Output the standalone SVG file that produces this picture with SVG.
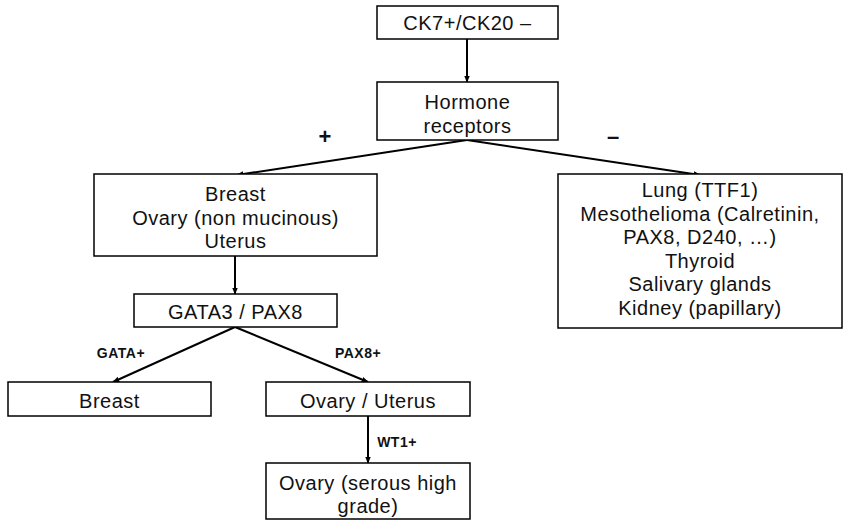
<svg xmlns="http://www.w3.org/2000/svg" width="850" height="529" viewBox="0 0 850 529">
<defs>
<marker id="ah" viewBox="0 0 10 10" refX="9" refY="5" markerWidth="7" markerHeight="7" orient="auto" markerUnits="userSpaceOnUse"><path d="M0,1 L10,5 L0,9 z" fill="#000"/></marker>
<style>
.box{fill:#fff;stroke:#000;stroke-width:1.5}
.t{font-family:"Liberation Sans",Arial,sans-serif;font-size:20px;letter-spacing:0.5px;fill:#111;text-anchor:middle}
.lb{font-family:"Liberation Sans",Arial,sans-serif;font-size:14px;letter-spacing:0.5px;font-weight:bold;fill:#111;text-anchor:middle}
.sg{font-family:"Liberation Sans",Arial,sans-serif;font-size:22px;font-weight:bold;fill:#111;text-anchor:middle}
.c{stroke:#000;stroke-width:2;fill:none;marker-end:url(#ah)}
</style>
</defs>
<rect width="850" height="529" fill="#fff"/>
<g id="connectors">
<line class="c" x1="467" y1="39" x2="467" y2="82"/>
<line class="c" x1="467" y1="140" x2="237" y2="175"/>
<line class="c" x1="467" y1="140" x2="700" y2="175"/>
<line class="c" x1="235" y1="256" x2="235" y2="294"/>
<line class="c" x1="235" y1="327" x2="113" y2="382"/>
<line class="c" x1="235" y1="327" x2="368" y2="382"/>
<line class="c" x1="368" y1="416" x2="368" y2="463"/>
<text class="sg" x="325" y="144">+</text>
<text class="sg" x="613" y="144">–</text>
<text class="lb" x="121" y="358">GATA+</text>
<text class="lb" x="358" y="358">PAX8+</text>
<text class="lb" x="397" y="447">WT1+</text>
</g>
<g id="ck7">
<rect class="box" x="377" y="6" width="181" height="33"/>
<text class="t" x="467.5" y="30">CK7+/CK20 –</text>
</g>
<g id="hormone">
<rect class="box" x="377" y="82" width="181" height="58"/>
<text class="t" x="467.5" y="109">Hormone</text>
<text class="t" x="467.5" y="133">receptors</text>
</g>
<g id="pos">
<rect class="box" x="94" y="174" width="283" height="82"/>
<text class="t" x="235.5" y="201">Breast</text>
<text class="t" x="235.5" y="225">Ovary (non mucinous)</text>
<text class="t" x="235.5" y="248">Uterus</text>
</g>
<g id="neg">
<rect class="box" x="558" y="174" width="284" height="154"/>
<text class="t" x="700" y="197">Lung (TTF1)</text>
<text class="t" x="700" y="221">Mesothelioma (Calretinin,</text>
<text class="t" x="700" y="244">PAX8, D240, …)</text>
<text class="t" x="700" y="268">Thyroid</text>
<text class="t" x="700" y="291">Salivary glands</text>
<text class="t" x="700" y="315">Kidney (papillary)</text>
</g>
<g id="gata">
<rect class="box" x="134" y="294" width="203" height="33"/>
<text class="t" x="235.5" y="319">GATA3 / PAX8</text>
</g>
<g id="breast">
<rect class="box" x="8" y="382" width="203" height="34"/>
<text class="t" x="109.5" y="408">Breast</text>
</g>
<g id="ovut">
<rect class="box" x="266" y="382" width="204" height="34"/>
<text class="t" x="368" y="408">Ovary / Uterus</text>
</g>
<g id="serous">
<rect class="box" x="266" y="463" width="204" height="56"/>
<text class="t" x="368" y="490">Ovary (serous high</text>
<text class="t" x="368" y="513">grade)</text>
</g>
</svg>
